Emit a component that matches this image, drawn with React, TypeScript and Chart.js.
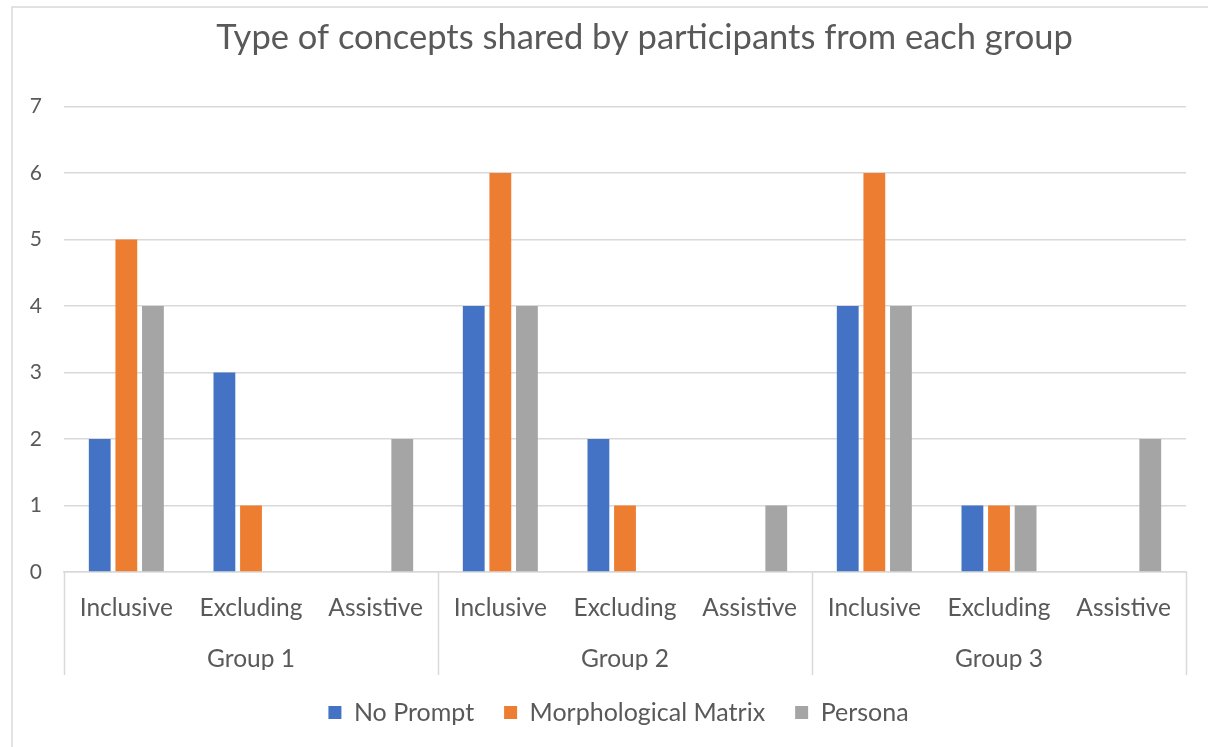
import React, { useEffect, useRef } from "react";
import { Chart, registerables } from "chart.js";

Chart.register(...registerables);

const titleText = "Type of concepts shared by participants from each group";
const categories = [
  "Inclusive", "Excluding", "Assistive",
  "Inclusive", "Excluding", "Assistive",
  "Inclusive", "Excluding", "Assistive",
];
const groups = ["Group 1", "Group 2", "Group 3"];
const noPrompt = [2, 3, 0, 4, 2, 0, 4, 1, 0];
const morphologicalMatrix = [5, 1, 0, 6, 1, 0, 6, 1, 0];
const persona = [4, 0, 2, 4, 0, 1, 4, 1, 2];
const seriesNames = ["No Prompt", "Morphological Matrix", "Persona"];
const yTicks = [0, 1, 2, 3, 4, 5, 6, 7];

const FONT = "Lato";
const TEXT = "#595959";
const LINE = "#d9d9d9";

const framePlugin = {
  id: "frame",
  afterLayout(chart: any) {
    // the reference's title and legend sit slightly right of centre
    if (chart.titleBlock) chart.titleBlock.left += 90;
    if (chart.legend) chart.legend.left += 38;
  },
  beforeDraw(chart: any) {
    const ctx = chart.ctx;
    ctx.save();
    ctx.strokeStyle = LINE;
    ctx.lineWidth = 1.5;
    ctx.beginPath();
    ctx.moveTo(12, chart.height);
    ctx.lineTo(12, 7);
    ctx.lineTo(chart.width, 7);
    ctx.stroke();
    ctx.restore();
  },
  afterDraw(chart: any) {
    const x = chart.scales.x;
    const x2 = chart.scales.x2;
    const ctx = chart.ctx;
    ctx.save();
    ctx.strokeStyle = LINE;
    ctx.lineWidth = 1.5;
    for (let i = 0; i <= categories.length; i += 3) {
      const px = Math.round(x.getPixelForValue(i - 0.5)) + 0.5;
      ctx.beginPath();
      ctx.moveTo(px, x.top);
      ctx.lineTo(px, x2.bottom + 5);
      ctx.stroke();
    }
    ctx.restore();
  },
};

export default function App() {
  const ref = useRef<HTMLCanvasElement | null>(null);
  useEffect(() => {
    if (!ref.current) return;
    const chart = new Chart(ref.current, {
      type: "bar",
      data: {
        labels: categories,
        datasets: [
          { label: seriesNames[0], data: noPrompt, backgroundColor: "#4472C4" },
          { label: seriesNames[1], data: morphologicalMatrix, backgroundColor: "#ED7D31" },
          { label: seriesNames[2], data: persona, backgroundColor: "#A5A5A5" },
        ],
      },
      options: {
        responsive: false,
        animation: false,
        layout: { padding: { left: 13, right: 22, top: 0, bottom: 12 } },
        datasets: {
          bar: { categoryPercentage: 0.64, barPercentage: 0.82 },
        },
        scales: {
          x: {
            type: "category",
            position: "bottom",
            grid: { display: false, drawTicks: false },
            border: { display: true, color: LINE, width: 1.5 },
            ticks: {
              color: TEXT,
              font: { family: FONT, size: 24.5 },
              padding: 21,
              maxRotation: 0,
              autoSkip: false,
            },
            afterFit: (s: any) => { s.height = 58; },
          },
          x2: {
            type: "category",
            position: "bottom",
            labels: groups,
            offset: true,
            grid: { display: false, drawTicks: false },
            border: { display: false },
            ticks: {
              color: TEXT,
              font: { family: FONT, size: 24.5 },
              padding: 14,
              maxRotation: 0,
            },
            afterFit: (s: any) => { s.height = 40; },
          },
          y: {
            min: 0,
            max: 7,
            afterBuildTicks: (s: any) => { s.ticks = yTicks.map((v) => ({ value: v })); },
            grid: { color: LINE, lineWidth: 1.5, drawTicks: false },
            border: { display: false },
            ticks: {
              color: TEXT,
              font: { family: FONT, size: 21 },
              padding: 22,
            },
            afterFit: (s: any) => { s.width = 51; },
          },
        },
        plugins: {
          title: {
            display: true,
            text: titleText,
            color: TEXT,
            font: { family: FONT, size: 34.5, weight: "normal" },
            padding: { top: 17, bottom: 48 },
          },
          legend: {
            position: "bottom",
            labels: {
              color: TEXT,
              font: { family: FONT, size: 25 },
              boxWidth: 13,
              boxHeight: 13,
              padding: 30,
            },
          },
          tooltip: { enabled: false },
        },
      },
      plugins: [framePlugin],
    } as any);
    return () => chart.destroy();
  }, []);
  return (
    <div style={{ position: "fixed", left: 0, top: 0, width: 1208, height: 747, background: "#fff" }}>
      <canvas ref={ref} width={1208} height={747} style={{ display: "block" }} />
    </div>
  );
}
